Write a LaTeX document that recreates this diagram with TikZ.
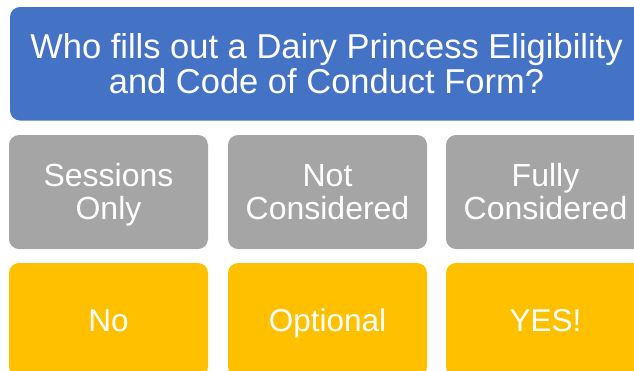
\documentclass[tikz,border=0pt]{standalone}
\usepackage{fontspec}
\setmainfont{Liberation Sans}
\definecolor{qblue}{HTML}{4472C4}
\definecolor{qgray}{HTML}{A5A5A5}
\definecolor{qgold}{HTML}{FFC000}
% same height for every line, so caps sit in the middle
\newcommand\capline[1]{\rule[-0.1em]{0pt}{0.916em}\smash{#1}}
\tikzset{
	tile/.style={rounded corners=10pt,minimum width=199pt,minimum height=114pt,text=white,align=center,inner sep=0pt},
	head/.style={tile,fill=qblue,minimum width=633pt,minimum height=113.5pt,font=\fontsize{34.5}{35}\selectfont},
	group/.style={tile,fill=qgray,font=\fontsize{32}{33}\selectfont},
	answer/.style={tile,fill=qgold,font=\fontsize{31.5}{33}\selectfont}
}
\begin{document}
\begin{tikzpicture}[x=1pt,y=-1pt]
	\useasboundingbox (0,0) rectangle (634,370);
	\clip (0,0) rectangle (634,370);
	\node[head] (who) at (326.5,63.75) {\capline{Who fills out a Dairy Princess Eligibility}\\\capline{and Code of Conduct Form?}};
	\node[group] (sess) at (108.5,192) {\capline{Sessions}\\\capline{Only}};
	\node[group] (notc) at (327.5,192) {\capline{Not}\\\capline{Considered}};
	\node[group] (full) at (545.5,192) {\capline{Fully}\\\capline{Considered}};
	\node[answer] (no) at (108.5,320) {\capline{No}};
	\node[answer] (opt) at (327.5,320) {\capline{Optional}};
	\node[answer] (yes) at (545.5,320) {\capline{YES!}};
\end{tikzpicture}
\end{document}
